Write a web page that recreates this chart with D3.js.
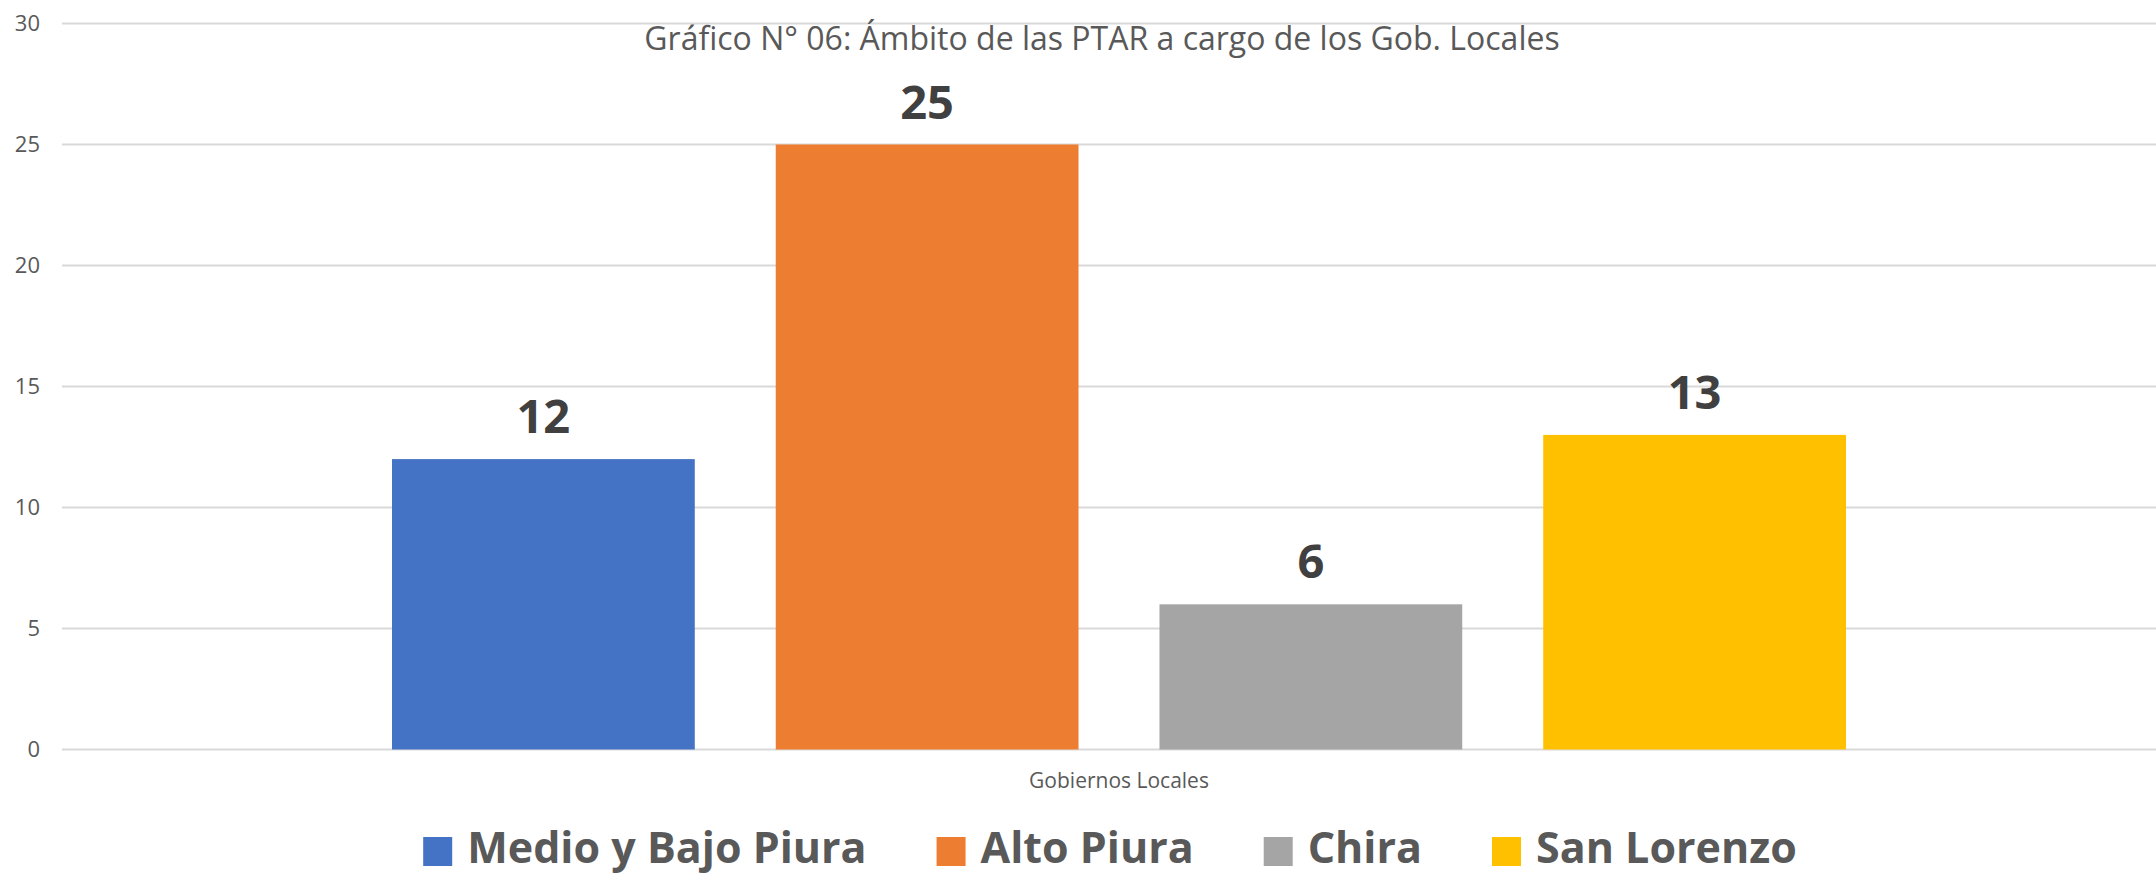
<!DOCTYPE html>
<html>
<head>
    <meta charset="utf-8">
    <title>Gráfico N° 06</title>
    <script src="https://cdn.jsdelivr.net/npm/d3@7/dist/d3.min.js"></script>
    <style>
        body { margin: 0; background: white; }
        svg { display: block; font-family: "Open Sans", sans-serif; }
    </style>
</head>
<body>
    <svg width="2156" height="875" id="mainsvg"></svg>
    <script>
        // data
        const categories = ['Medio y Bajo Piura', 'Alto Piura', 'Chira', 'San Lorenzo'];
        const values = [12, 25, 6, 13];
        const colors = ['#4472C4', '#ED7D31', '#A5A5A5', '#FFC000'];
        const yTicks = [0, 5, 10, 15, 20, 25, 30];
        const title = 'Gráfico N° 06: Ámbito de las PTAR a cargo de los Gob. Locales';
        const xTitle = 'Gobiernos Locales';

        const svg = d3.select('#mainsvg');
        const width = +svg.attr('width');

        const y = d3.scaleLinear().domain([0, 30]).range([749.5, 23.5]);
        const x = d3.scaleBand().domain(categories).range([392, 1846])
            .paddingInner(0.211).paddingOuter(0);

        // gridlines
        svg.append('g').selectAll('line').data(yTicks).join('line')
            .attr('x1', 62).attr('x2', width)
            .attr('y1', d => y(d)).attr('y2', d => y(d))
            .attr('stroke', '#d9d9d9').attr('stroke-width', 2);

        // y tick labels
        svg.append('g').selectAll('text').data(yTicks).join('text')
            .attr('x', 40).attr('y', d => y(d))
            .attr('dy', '0.35em')
            .attr('text-anchor', 'end')
            .attr('font-size', 22)
            .attr('fill', '#595959')
            .text(d => d);

        // bars
        svg.append('g').selectAll('rect').data(values).join('rect')
            .attr('x', (d, i) => x(categories[i]))
            .attr('y', d => y(d))
            .attr('width', x.bandwidth())
            .attr('height', d => y(0) - y(d))
            .attr('fill', (d, i) => colors[i]);

        // value labels
        svg.append('g').selectAll('text').data(values).join('text')
            .attr('x', (d, i) => x(categories[i]) + x.bandwidth() / 2)
            .attr('y', d => y(d) - 26)
            .attr('text-anchor', 'middle')
            .attr('font-size', 47)
            .attr('font-weight', 'bold')
            .attr('fill', '#404040')
            .text(d => d);

        // title
        svg.append('text')
            .attr('x', 1102).attr('y', 50)
            .attr('text-anchor', 'middle')
            .attr('font-size', 32)
            .attr('fill', '#595959')
            .text(title);

        // axis title
        svg.append('text')
            .attr('x', 1119).attr('y', 788)
            .attr('text-anchor', 'middle')
            .attr('font-size', 21)
            .attr('fill', '#595959')
            .text(xTitle);

        // legend
        const legend = svg.append('g');
        const items = legend.selectAll('g').data(categories).join('g');
        items.append('rect')
            .attr('width', 29).attr('height', 29)
            .attr('y', 837)
            .attr('fill', (d, i) => colors[i]);
        items.append('text')
            .attr('x', 44).attr('y', 863)
            .attr('font-size', 43)
            .attr('font-weight', 'bold')
            .attr('fill', '#595959')
            .text(d => d);

        // place legend items side by side, centred
        let offset = 0;
        const gap = 70;
        items.each(function () {
            const w = 44 + d3.select(this).select('text').node().getComputedTextLength();
            d3.select(this).attr('transform', `translate(${offset},0)`);
            offset += w + gap;
        });
        const total = offset - gap;
        legend.attr('transform', `translate(${1110 - total / 2},0)`);
    </script>
</body>
</html>
